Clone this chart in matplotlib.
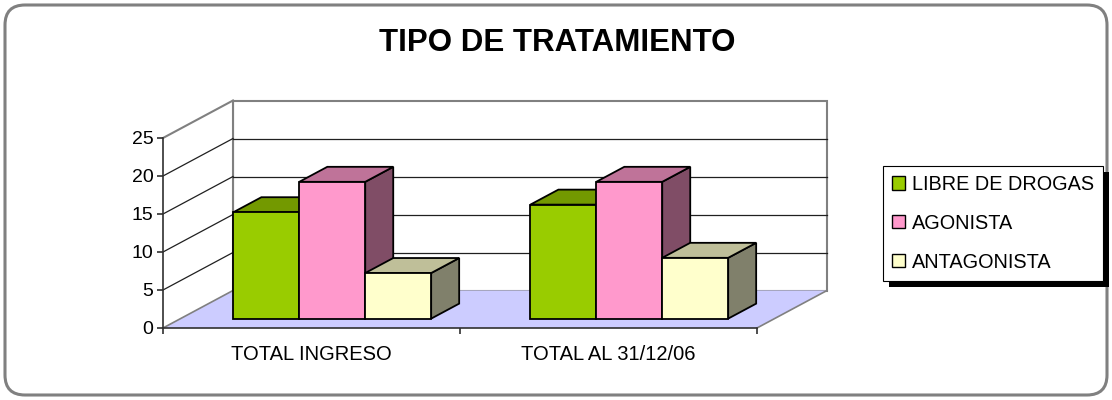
import matplotlib
matplotlib.use('Agg')
import matplotlib.pyplot as plt
from matplotlib.patches import Polygon, Rectangle, FancyBboxPatch, Patch

# ---- data ----
title = 'TIPO DE TRATAMIENTO'
categories = ['TOTAL INGRESO', 'TOTAL AL 31/12/06']
series_names = ['LIBRE DE DROGAS', 'AGONISTA', 'ANTAGONISTA']
libre = [14, 15]
agonista = [18, 18]
antagonista = [6, 8]
y_ticks = [0, 5, 10, 15, 20, 25]

front_colors = ['#99CC00', '#FF99CC', '#FFFFCC']
top_colors = ['#739900', '#BF7399', '#BFBF99']
side_colors = ['#4D6600', '#804D66', '#80806B']

plt.rcParams['font.family'] = ['Liberation Sans', 'DejaVu Sans']

W, H = 1112, 400
fig = plt.figure(figsize=(W / 100, H / 100), dpi=100)

# background / frame
bg = fig.add_axes([0, 0, 1, 1])
bg.set_xlim(0, W)
bg.set_ylim(H, 0)
bg.axis('off')
bg.add_patch(FancyBboxPatch((5, 5), W - 10, H - 10,
                            boxstyle='round,pad=0,rounding_size=20',
                            fc='white', ec='#808080', lw=2.2))
bg.text(557, 43, title, ha='center', va='center', fontsize=22.5,
        fontweight='bold', color='black')

# main 3-D like plot area (front plane)
ax = fig.add_axes([163 / W, 1 - 328 / H, 594 / W, 190 / H])
ax.set_xlim(0, len(categories))
ax.set_ylim(y_ticks[0], y_ticks[-1])
ax.patch.set_visible(False)
for s in ['top', 'right']:
    ax.spines[s].set_visible(False)
ax.spines['left'].set_color('#303030')
ax.spines['bottom'].set_color('#303030')
ax.spines['left'].set_linewidth(1.2)
ax.spines['bottom'].set_linewidth(1.2)

DX = 70 / 297          # depth offset, category units
DY = 37.5 / 7.6        # depth offset, value units
ymax = y_ticks[-1]
ncat = len(categories)
grid_c = '#808080'

# floor
ax.add_patch(Polygon([(0, 0), (ncat, 0), (ncat + DX, DY), (DX, DY)],
                     closed=True, fc='#CCCCFF', ec='none', zorder=1, clip_on=False))
ax.plot([ncat, ncat + DX], [0, DY], color=grid_c, lw=1.2, zorder=1.2, clip_on=False)
# back wall
ax.add_patch(Polygon([(DX, DY), (ncat + DX, DY), (ncat + DX, DY + ymax), (DX, DY + ymax)],
                     closed=True, fc='white', ec=grid_c, lw=1.5, zorder=1.1, clip_on=False))
# left wall
ax.add_patch(Polygon([(0, 0), (DX, DY), (DX, DY + ymax), (0, ymax)],
                     closed=True, fc='white', ec='none', zorder=1.1, clip_on=False))
ax.plot([0, DX], [ymax, DY + ymax], color=grid_c, lw=1.5, zorder=1.2, clip_on=False)
ax.plot([DX, DX], [DY, DY + ymax], color=grid_c, lw=1.5, zorder=1.2, clip_on=False)
ax.add_patch(Polygon([(0, 0), (DX, DY), (ncat + DX, DY), (ncat, 0)],
                     closed=True, fc='#CCCCFF', ec='none', zorder=1.15, clip_on=False))
ax.plot([0, DX], [0, DY], color=grid_c, lw=1.2, zorder=1.2, clip_on=False)
for v in y_ticks[1:-1]:
    ax.plot([DX, ncat + DX], [DY + v, DY + v], color='#202020', lw=0.9, zorder=1.2, clip_on=False)
    ax.plot([0, DX], [v, DY + v], color='#202020', lw=0.9, zorder=1.2, clip_on=False)

# bars
series = [libre, agonista, antagonista]
start, w = 0.178, 0.222
f0, f1 = 0.25, 0.65
z = 2
for i in range(ncat):
    for j, vals in enumerate(series):
        v = vals[i]
        x0 = i + start + j * w
        x1 = x0 + w
        ax0, ay0 = x0 + f0 * DX, f0 * DY
        ax1 = x1 + f0 * DX
        bx0, bx1, by0 = x0 + f1 * DX, x1 + f1 * DX, f1 * DY
        kw = dict(closed=True, ec='black', lw=1.3, joinstyle='miter', clip_on=False)
        ax.add_patch(Polygon([(ax1, ay0), (bx1, by0), (bx1, by0 + v), (ax1, ay0 + v)],
                             fc=side_colors[j], zorder=z, **kw))
        ax.add_patch(Polygon([(ax0, ay0 + v), (ax1, ay0 + v), (bx1, by0 + v), (bx0, by0 + v)],
                             fc=top_colors[j], zorder=z + 0.1, **kw))
        ax.add_patch(Polygon([(ax0, ay0), (ax1, ay0), (ax1, ay0 + v), (ax0, ay0 + v)],
                             fc=front_colors[j], zorder=z + 0.2, **kw))
        z += 0.5

# axes ticks
ax.set_yticks(y_ticks)
ax.tick_params(axis='y', direction='out', length=4, width=1.2, pad=3,
               labelsize=14, color='#303030')
ax.set_xticks(range(ncat + 1))
ax.set_xticklabels([])
ax.set_xticks([k + 0.5 for k in range(ncat)], minor=True)
ax.set_xticklabels(categories, minor=True)
ax.tick_params(axis='x', which='major', direction='out', length=4, width=1.2, color='#303030')
ax.tick_params(axis='x', which='minor', length=0, pad=12, labelsize=14.5)

# legend
handles = [Patch(fc=c, ec='black', lw=1) for c in front_colors]
leg = fig.legend(handles, series_names, loc='upper left',
                 bbox_to_anchor=(883 / W, 1 - 166 / H), bbox_transform=fig.transFigure,
                 borderaxespad=0, frameon=True, fancybox=False, edgecolor='black',
                 framealpha=1, fontsize=14.3, handlelength=0.65, handleheight=0.65,
                 handletextpad=0.35, labelspacing=1.0, borderpad=0.45)
leg.get_frame().set_linewidth(0.8)

fig.canvas.draw()
bb = leg.get_window_extent()
bg.add_patch(Rectangle((bb.x0 + 6, H - bb.y1 + 6), bb.width, bb.height,
                       fc='black', ec='none', zorder=3))

fig.savefig('out.png', dpi=100)
